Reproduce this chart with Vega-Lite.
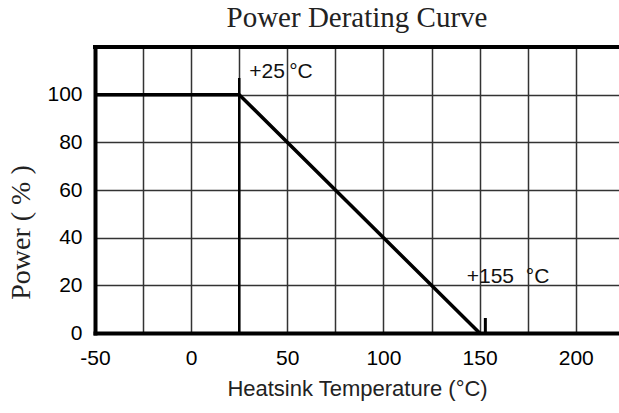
{
  "$schema": "https://vega.github.io/schema/vega-lite/v6.json",
  "width": 524,
  "height": 286,
  "autosize": {"type": "none"},
  "padding": {"left": 95, "top": 47, "right": 0, "bottom": 80},
  "background": "white",
  "title": {"text": "Power Derating Curve", "font": "Liberation Serif", "fontSize": 29, "fontWeight": "normal", "color": "#222", "offset": 18, "baseline": "alphabetic", "dy": 30},
  "config": {
    "view": {"stroke": null},
    "axis": {"domainCap": "square", "gridColor": "#333", "gridWidth": 1.5, "gridOpacity": 1, "ticks": false, "domainColor": "black", "domainWidth": 4, "labelColor": "black", "labelFont": "Liberation Sans", "labelFontSize": 21, "labelOverlap": false, "labelFlush": false}
  },
  "datasets": {
    "curve": [{"t": -50, "p": 100}, {"t": 25, "p": 100}, {"t": 150, "p": 0}],
    "border": [{"p": 120}],
    "rules": [{"kind": "knee", "t": 25, "p0": 0, "p1": 107}, {"kind": "end", "t": 153, "p0": 0, "p1": 6.3}],
    "notes": [
      {"side": "r", "t": 48.8, "p": 109.6, "label": "+25"},
      {"side": "l", "t": 51, "p": 109.6, "label": "°C"},
      {"side": "r", "t": 167.9, "p": 23.5, "label": "+155"},
      {"side": "l", "t": 174, "p": 23.5, "label": "°C"}
    ]
  },
  "layer": [
    {
      "data": {"name": "curve"},
      "mark": {"type": "line", "color": "black", "strokeWidth": 3.5},
      "encoding": {
        "x": {"field": "t", "type": "quantitative", "scale": {"domain": [-50, 222.5], "nice": false, "zero": false},
          "axis": {"title": "Heatsink Temperature (°C)", "values": [-50, -25, 0, 25, 50, 75, 100, 125, 150, 175, 200], "labelExpr": "datum.value % 50 === 0 ? '' + datum.value : ''", "labelPadding": 14, "titleFont": "Liberation Sans", "titleFontSize": 22, "titleFontWeight": "normal", "titleColor": "#222", "titlePadding": 10}},
        "y": {"field": "p", "type": "quantitative", "scale": {"domain": [0, 120], "nice": false},
          "axis": {"title": "Power ( % )", "values": [0, 20, 40, 60, 80, 100], "labelPadding": 13, "titleFont": "Liberation Serif", "titleFontSize": 28, "titleFontWeight": "normal", "titleColor": "#222", "titlePadding": 11, "titleY": 185}}
      }
    },
    {
      "data": {"name": "border"},
      "mark": {"type": "rule", "color": "black", "strokeWidth": 4, "strokeCap": "square"},
      "encoding": {"y": {"field": "p", "type": "quantitative"}}
    },
    {
      "data": {"name": "rules"},
      "transform": [{"filter": "datum.kind === 'knee'"}],
      "mark": {"type": "rule", "color": "black", "strokeWidth": 2.5},
      "encoding": {"x": {"field": "t", "type": "quantitative"}, "y": {"field": "p0", "type": "quantitative"}, "y2": {"field": "p1"}}
    },
    {
      "data": {"name": "rules"},
      "transform": [{"filter": "datum.kind === 'end'"}],
      "mark": {"type": "rule", "color": "black", "strokeWidth": 3},
      "encoding": {"x": {"field": "t", "type": "quantitative"}, "y": {"field": "p0", "type": "quantitative"}, "y2": {"field": "p1"}}
    },
    {
      "data": {"name": "notes"},
      "transform": [{"filter": "datum.side === 'r'"}],
      "mark": {"type": "text", "align": "right", "baseline": "middle", "font": "Liberation Sans", "fontSize": 21, "color": "#111"},
      "encoding": {"x": {"field": "t", "type": "quantitative"}, "y": {"field": "p", "type": "quantitative"}, "text": {"field": "label"}}
    },
    {
      "data": {"name": "notes"},
      "transform": [{"filter": "datum.side === 'l'"}],
      "mark": {"type": "text", "align": "left", "baseline": "middle", "font": "Liberation Sans", "fontSize": 21, "color": "#111"},
      "encoding": {"x": {"field": "t", "type": "quantitative"}, "y": {"field": "p", "type": "quantitative"}, "text": {"field": "label"}}
    }
  ]
}
